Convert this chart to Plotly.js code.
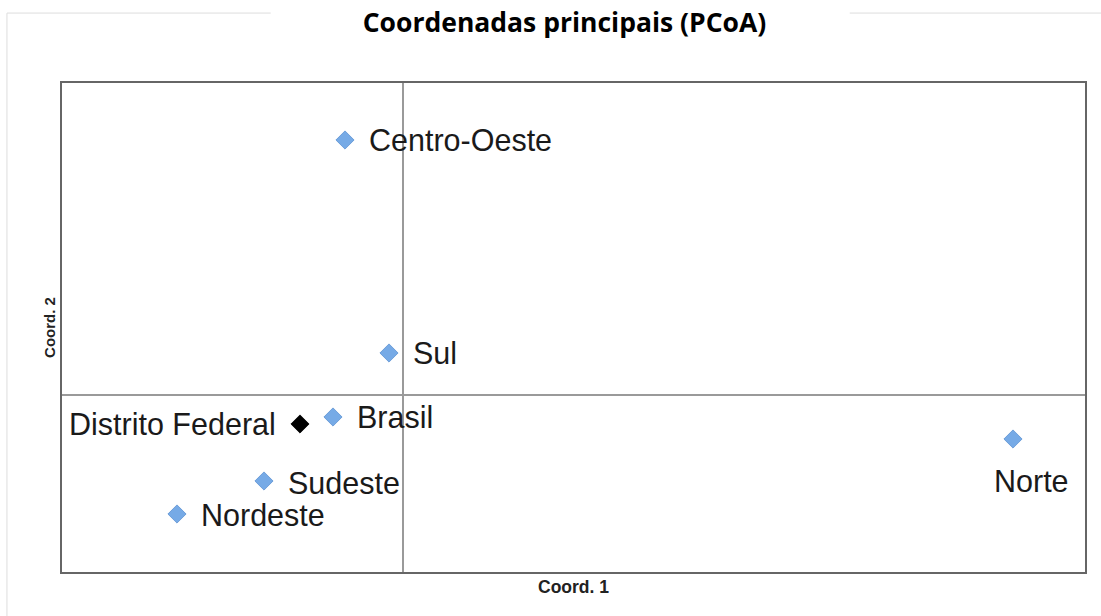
<!DOCTYPE html>
<html>
<head>
<meta charset="utf-8">
<script src="https://cdn.plot.ly/plotly-3.0.1.min.js"></script>
<style>html,body{margin:0;padding:0;background:#fff;}#chart{width:1101px;height:616px;}</style>
</head>
<body>
<div id="chart"></div>
<script>
// Data
const regions = ["Centro-Oeste", "Sul", "Brasil", "Distrito Federal", "Norte", "Sudeste", "Nordeste"];
const coord1 = [-0.058, -0.014, -0.070, -0.103, 0.610, -0.139, -0.226];
const coord2 = [0.255, 0.042, -0.022, -0.029, -0.044, -0.086, -0.119];
const highlighted = ["Distrito Federal"];

// Label placement (style only)
const labelPlacement = {
  "Centro-Oeste": {xanchor: "left", xshift: 22, yshift: 0},
  "Sul": {xanchor: "left", xshift: 22, yshift: 0},
  "Brasil": {xanchor: "left", xshift: 22, yshift: 0},
  "Distrito Federal": {xanchor: "right", xshift: -22, yshift: 0},
  "Norte": {xanchor: "center", xshift: 18, yshift: -42},
  "Sudeste": {xanchor: "left", xshift: 22, yshift: -2},
  "Nordeste": {xanchor: "left", xshift: 22, yshift: -1}
};

const blueIdx = regions.map((r, i) => i).filter(i => !highlighted.includes(regions[i]));
const blackIdx = regions.map((r, i) => i).filter(i => highlighted.includes(regions[i]));

const traces = [
  {
    type: "scatter", mode: "markers",
    x: blueIdx.map(i => coord1[i]), y: blueIdx.map(i => coord2[i]),
    marker: {symbol: "diamond", size: 14, color: "#76aae6", line: {color: "#5a91d2", width: 0.8}},
    hoverinfo: "text", text: blueIdx.map(i => regions[i])
  },
  {
    type: "scatter", mode: "markers",
    x: blackIdx.map(i => coord1[i]), y: blackIdx.map(i => coord2[i]),
    marker: {symbol: "diamond", size: 14, color: "#000000", line: {color: "#000000", width: 0.8}},
    hoverinfo: "text", text: blackIdx.map(i => regions[i])
  }
];

const annotations = regions.map((r, i) => {
  const p = labelPlacement[r];
  return {
    x: coord1[i], y: coord2[i], xref: "x", yref: "y",
    text: r, showarrow: false,
    xanchor: p.xanchor, yanchor: "middle",
    xshift: p.xshift, yshift: p.yshift,
    font: {family: "Liberation Sans, Arial, sans-serif", size: 30.5, color: "#1a1a1a"}
  };
});

const frameColor = "#dddddd";
const shapes = [
  {type: "line", xref: "paper", yref: "paper", x0: -0.0538, x1: 0.204, y0: 1.143, y1: 1.143, line: {color: frameColor, width: 1}},
  {type: "line", xref: "paper", yref: "paper", x0: 0.77, x1: 1.02, y0: 1.143, y1: 1.143, line: {color: frameColor, width: 1}},
  {type: "line", xref: "paper", yref: "paper", x0: -0.0538, x1: -0.0538, y0: 1.143, y1: -0.1, line: {color: frameColor, width: 1}}
];

const axisCommon = {
  showgrid: false, showticklabels: false, ticks: "",
  zeroline: true, zerolinecolor: "#9a9a9a", zerolinewidth: 1.5,
  showline: true, mirror: true, linecolor: "#666666", linewidth: 2,
  fixedrange: true
};

const layout = {
  width: 1101, height: 616,
  margin: {l: 62, r: 16, t: 83, b: 44},
  paper_bgcolor: "#ffffff", plot_bgcolor: "#ffffff",
  showlegend: false,
  title: {
    text: "<b>Coordenadas principais (PCoA)</b>",
    font: {family: "Open Sans, sans-serif", size: 26.5, color: "#000000"},
    x: 564.5 / 1101, xref: "container", xanchor: "center",
    y: 1 - 23/616, yref: "container", yanchor: "middle"
  },
  xaxis: Object.assign({}, axisCommon, {
    range: [-0.341, 0.682],
    title: {text: "<b>Coord. 1</b>", font: {family: "Liberation Sans, Arial, sans-serif", size: 17.5, color: "#222"}, standoff: 8}
  }),
  yaxis: Object.assign({}, axisCommon, {
    range: [-0.177, 0.312],
    title: {text: "<b>Coord. 2</b>", font: {family: "Liberation Sans, Arial, sans-serif", size: 15, color: "#222"}, standoff: 1}
  }),
  annotations: annotations,
  shapes: shapes
};

Plotly.newPlot("chart", traces, layout, {displayModeBar: false, staticPlot: true});
</script>
</body>
</html>
